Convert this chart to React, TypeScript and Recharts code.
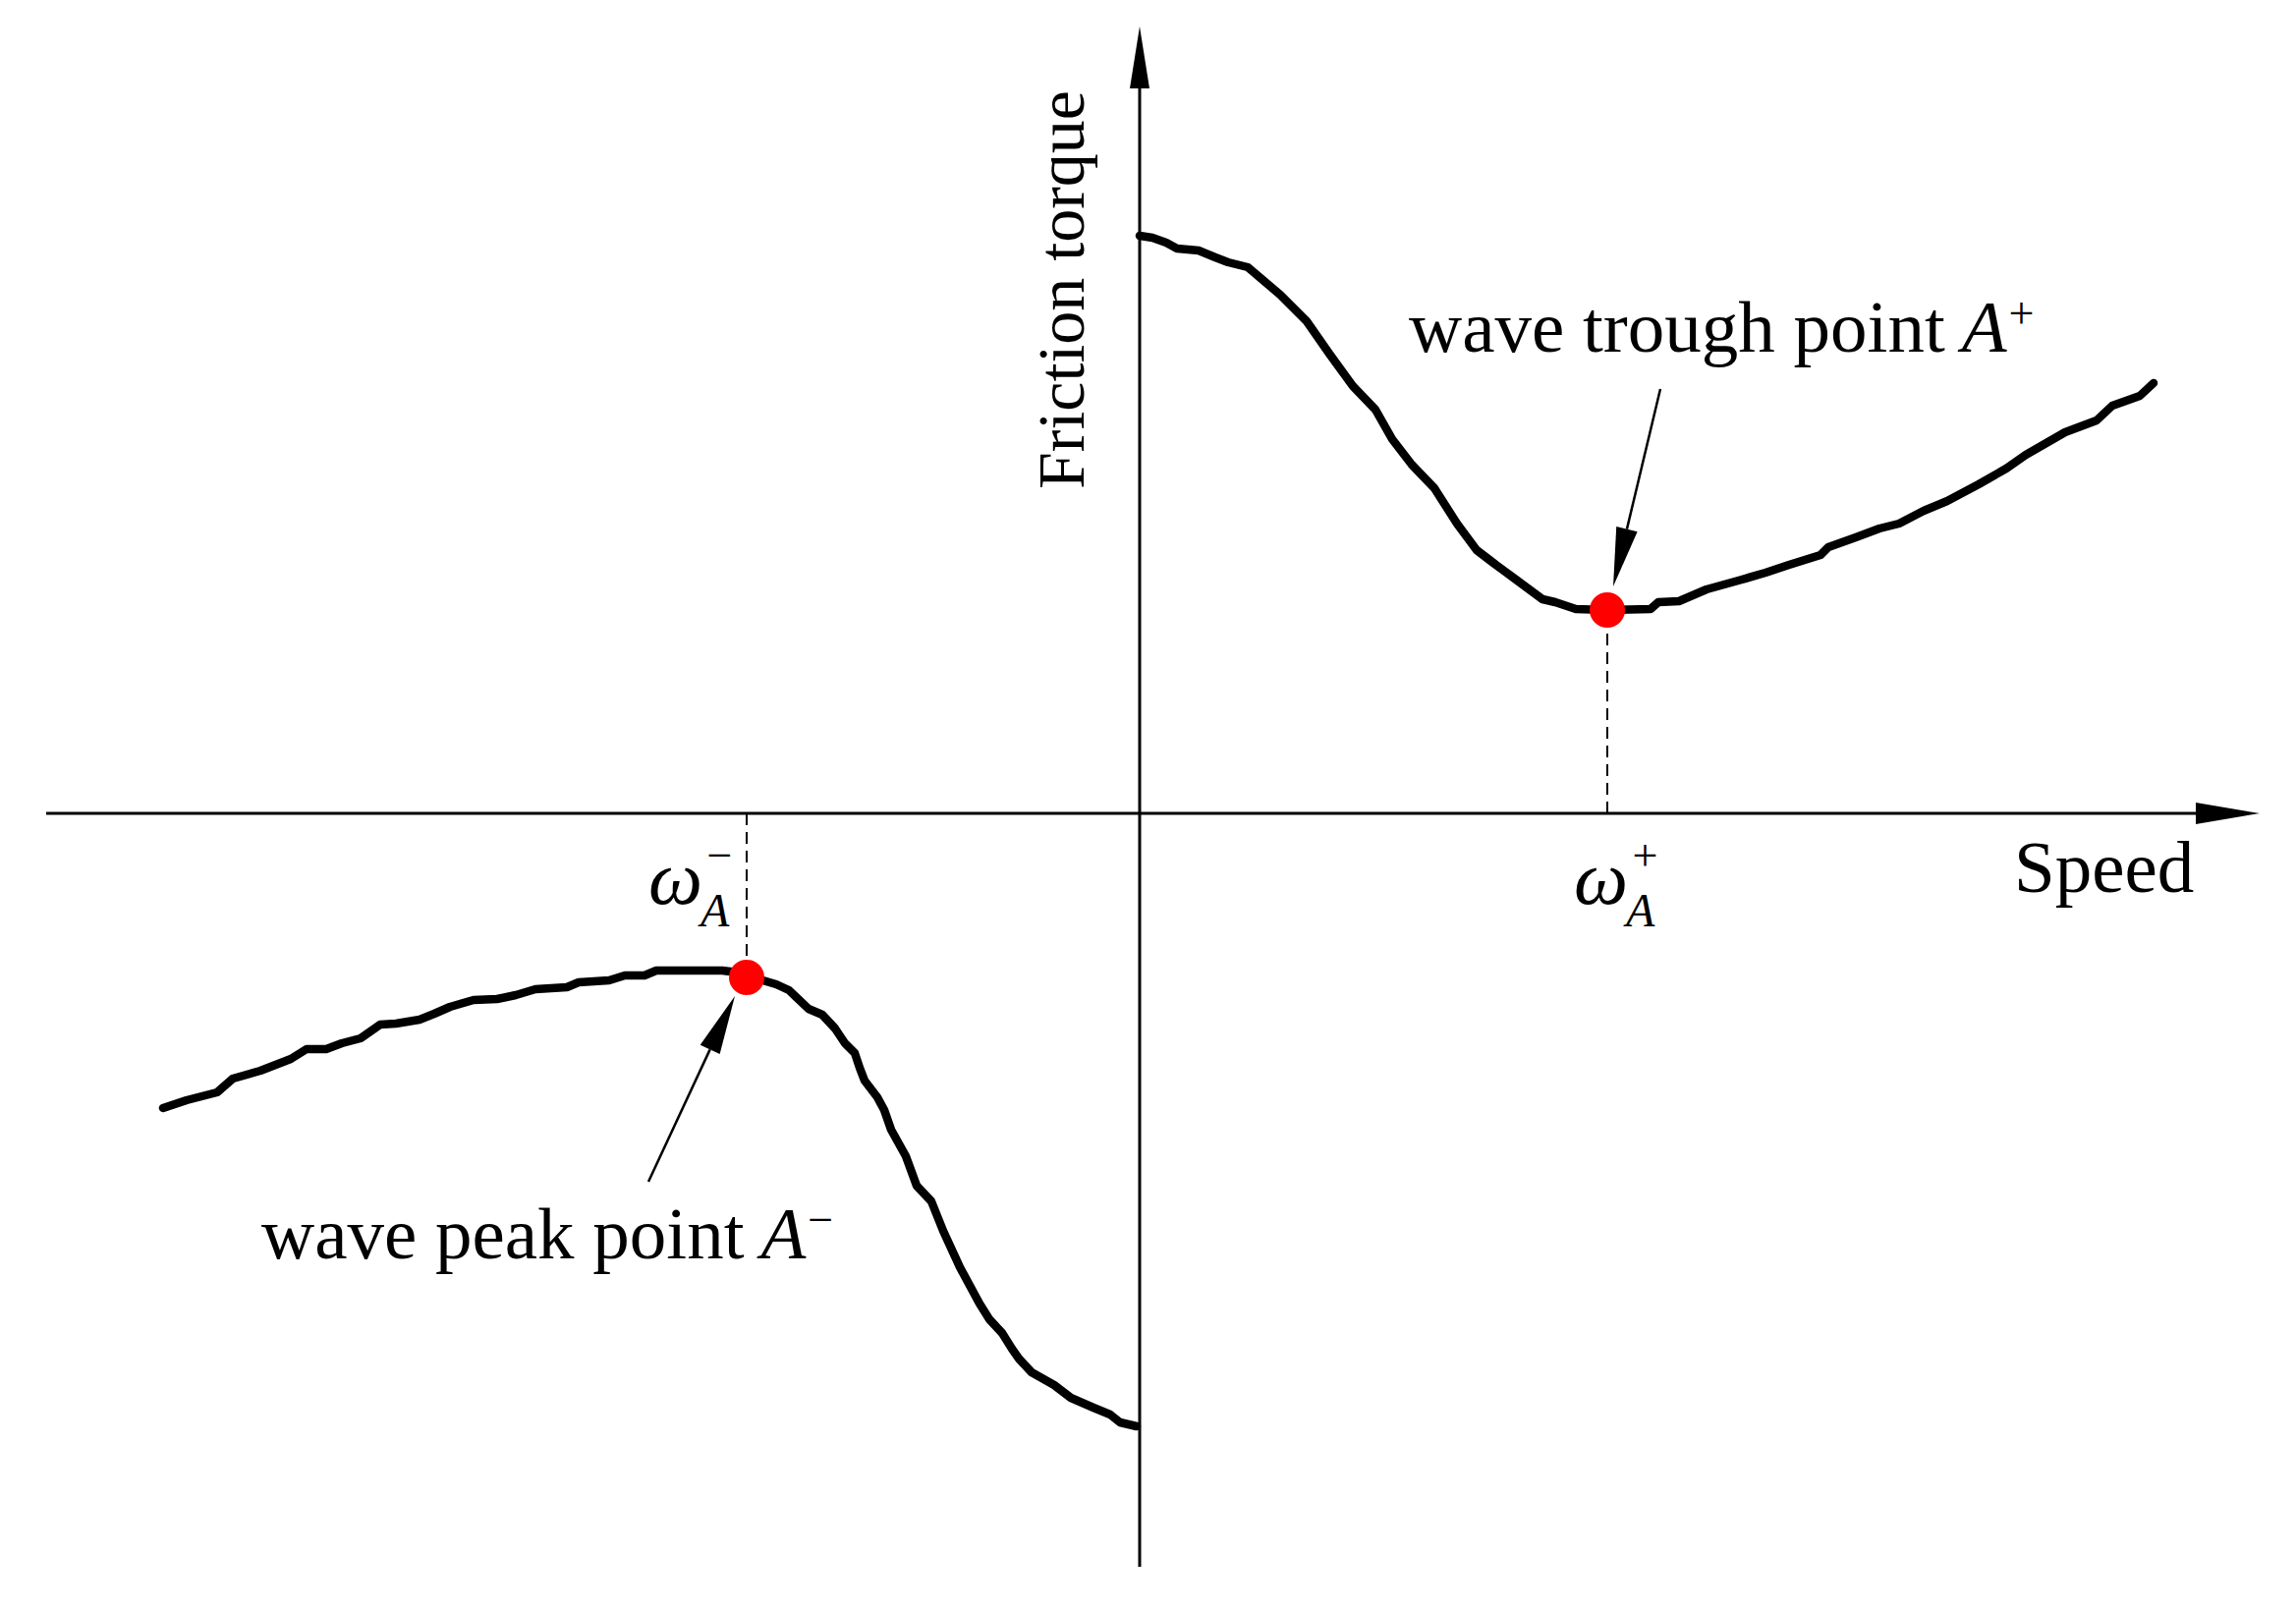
import { ComposedChart, Line, XAxis, YAxis, ReferenceLine, ReferenceDot } from 'recharts';

// speed / friction torque, arbitrary units
const posSpeed = [0.0, 0.13, 0.27, 0.38, 0.6, 0.77, 0.9, 1.1, 1.23, 1.43, 1.7, 1.93, 2.17, 2.4, 2.57, 2.77, 3.0, 3.23, 3.43, 3.6, 3.83, 4.1, 4.23, 4.44, 4.76, 5.2, 5.28, 5.49, 5.77, 6.13, 6.37, 6.61, 6.93, 7.01, 7.29, 7.53, 7.73, 7.98, 8.22, 8.54, 8.82, 9.02, 9.42, 9.74, 9.9, 10.18, 10.32];
const posTorque = [5.88, 5.86, 5.81, 5.75, 5.73, 5.66, 5.61, 5.56, 5.45, 5.28, 5.01, 4.68, 4.35, 4.11, 3.81, 3.55, 3.31, 2.95, 2.68, 2.55, 2.38, 2.18, 2.15, 2.08, 2.07, 2.08, 2.15, 2.16, 2.28, 2.38, 2.45, 2.53, 2.63, 2.71, 2.81, 2.9, 2.95, 3.08, 3.18, 3.35, 3.51, 3.65, 3.88, 4.0, 4.15, 4.25, 4.38];

const negSpeed = [-9.94, -9.7, -9.39, -9.23, -8.95, -8.64, -8.48, -8.28, -8.12, -7.93, -7.73, -7.57, -7.33, -7.18, -7.02, -6.78, -6.54, -6.35, -6.15, -5.83, -5.71, -5.4, -5.24, -5.04, -4.92, -4.25, -4.0, -3.87, -3.7, -3.57, -3.37, -3.23, -3.1, -3.0, -2.9, -2.85, -2.8, -2.67, -2.6, -2.53, -2.38, -2.27, -2.12, -2.0, -1.83, -1.63, -1.53, -1.4, -1.3, -1.23, -1.1, -0.87, -0.7, -0.47, -0.3, -0.2, -0.03];
const negTorque = [-3.0, -2.92, -2.84, -2.7, -2.62, -2.5, -2.4, -2.4, -2.34, -2.29, -2.15, -2.14, -2.1, -2.04, -1.97, -1.9, -1.89, -1.85, -1.79, -1.77, -1.72, -1.7, -1.65, -1.65, -1.6, -1.6, -1.63, -1.69, -1.74, -1.8, -1.99, -2.05, -2.19, -2.34, -2.44, -2.59, -2.72, -2.89, -3.02, -3.22, -3.49, -3.79, -3.95, -4.25, -4.62, -4.99, -5.15, -5.29, -5.45, -5.55, -5.69, -5.82, -5.95, -6.05, -6.12, -6.2, -6.24];

const troughPoint = { x: 4.76, y: 2.07 };
const peakPoint = { x: -4.0, y: -1.67 };

const troughPointer = [{ x: 5.3, y: 4.32 }, { x: 4.82, y: 2.31 }];
const peakPointer = [{ x: -5.0, y: -3.75 }, { x: -4.12, y: -1.86 }];

const xDomain = [-11.13, 11.4];
const yDomain = [-7.67, 8.01];

const posData = posSpeed.map((x, i) => ({ x, y: posTorque[i] }));
const negData = negSpeed.map((x, i) => ({ x, y: negTorque[i] }));

const FONT = '"Liberation Serif", "Times New Roman", serif';

const axisShape = (p: any) => {
  const { x1, y1, x2, y2 } = p;
  if (Math.abs(y1 - y2) < 1) {
    const tip = Math.max(x1, x2);
    const tail = Math.min(x1, x2);
    return (
      <g>
        <line x1={tail} y1={y1} x2={tip - 60} y2={y1} stroke="#000" strokeWidth={3} />
        <polygon points={`${tip},${y1} ${tip - 65},${y1 - 11} ${tip - 65},${y1 + 11}`} fill="#000" />
      </g>
    );
  }
  const tip = Math.min(y1, y2);
  const tail = Math.max(y1, y2);
  return (
    <g>
      <line x1={x1} y1={tail} x2={x1} y2={tip + 58} stroke="#000" strokeWidth={3} />
      <polygon points={`${x1},${tip} ${x1 - 10},${tip + 63} ${x1 + 10},${tip + 63}`} fill="#000" />
    </g>
  );
};

const pointerShape = (p: any) => {
  const { x1, y1, x2, y2 } = p;
  const dx = x2 - x1;
  const dy = y2 - y1;
  const len = Math.hypot(dx, dy) || 1;
  const ux = dx / len;
  const uy = dy / len;
  const bx = x2 - ux * 60;
  const by = y2 - uy * 60;
  const nx = -uy * 11;
  const ny = ux * 11;
  return (
    <g>
      <line x1={x1} y1={y1} x2={bx} y2={by} stroke="#000" strokeWidth={2.5} />
      <polygon points={`${x2},${y2} ${bx + nx},${by + ny} ${bx - nx},${by - ny}`} fill="#000" />
    </g>
  );
};

const pointLabel = (text: string, sign: string) => (p: any) => (
  <text x={p.cx} y={p.cy} fontFamily={FONT} fontSize={75} fill="#000">
    {text}
    <tspan dx={17} fontStyle="italic">A</tspan>
    <tspan fontSize={46} dx={2} dy={-24}>{sign}</tspan>
  </text>
);

// omega_A with sign, hung below the axis next to the dashed line foot
const omegaLabel = (sign: string, ox: number) => (p: any) => (
  <text x={p.cx + ox} y={p.cy + 92} fontFamily={FONT} fill="#000">
    <tspan fontSize={78} fontStyle="italic">ω</tspan>
    <tspan fontSize={48} fontStyle="italic" dx={-2} dy={23}>A</tspan>
    <tspan fontSize={46} dx={-23} dy={-57}>{sign}</tspan>
  </text>
);

const plainLabel = (text: string, size: number) => (p: any) => (
  <text x={p.cx} y={p.cy} fontFamily={FONT} fontSize={size} fill="#000">{text}</text>
);

const yTitle = (p: any) => (
  <text
    x={p.cx}
    y={p.cy}
    fontFamily={FONT}
    fontSize={68}
    fill="#000"
    textAnchor="middle"
    transform={`rotate(-90 ${p.cx} ${p.cy})`}
  >
    Friction torque
  </text>
);

export default function App() {
  return (
    <div style={{ position: 'absolute', left: 0, top: 0, width: 2337, height: 1640, background: '#fff' }}>
      <ComposedChart width={2337} height={1640} margin={{ top: 27, right: 37, bottom: 45, left: 47 }}>
        <XAxis type="number" dataKey="x" domain={xDomain} hide allowDataOverflow />
        <YAxis type="number" dataKey="y" domain={yDomain} hide allowDataOverflow />

        <ReferenceLine y={0} shape={axisShape} />
        <ReferenceLine x={0} shape={axisShape} />

        <Line data={posData} dataKey="y" type="linear" stroke="#000" strokeWidth={8.5} strokeLinejoin="round" strokeLinecap="round" dot={false} activeDot={false} isAnimationActive={false} />
        <Line data={negData} dataKey="y" type="linear" stroke="#000" strokeWidth={8.5} strokeLinejoin="round" strokeLinecap="round" dot={false} activeDot={false} isAnimationActive={false} />

        <ReferenceLine segment={[{ x: troughPoint.x, y: 0 }, troughPoint]} stroke="#000" strokeWidth={2} strokeDasharray="12 7" />
        <ReferenceLine segment={[{ x: peakPoint.x, y: 0 }, peakPoint]} stroke="#000" strokeWidth={2} strokeDasharray="12 7" />

        <ReferenceDot x={troughPoint.x} y={troughPoint.y} r={18} fill="#ff0000" stroke="none" />
        <ReferenceDot x={peakPoint.x} y={peakPoint.y} r={18} fill="#ff0000" stroke="none" />

        <ReferenceLine segment={troughPointer} shape={pointerShape} />
        <ReferenceLine segment={peakPointer} shape={pointerShape} />

        <ReferenceDot x={2.74} y={4.7} shape={pointLabel('wave trough point', '+')} />
        <ReferenceDot x={-8.94} y={-4.53} shape={pointLabel('wave peak point', '−')} />
        <ReferenceDot x={troughPoint.x} y={0} shape={omegaLabel('+', -34)} />
        <ReferenceDot x={peakPoint.x} y={0} shape={omegaLabel('−', -100)} />
        <ReferenceDot x={8.9} y={-0.8} shape={plainLabel('Speed', 75)} />
        <ReferenceDot x={-0.57} y={5.33} shape={yTitle} />
      </ComposedChart>
    </div>
  );
}
